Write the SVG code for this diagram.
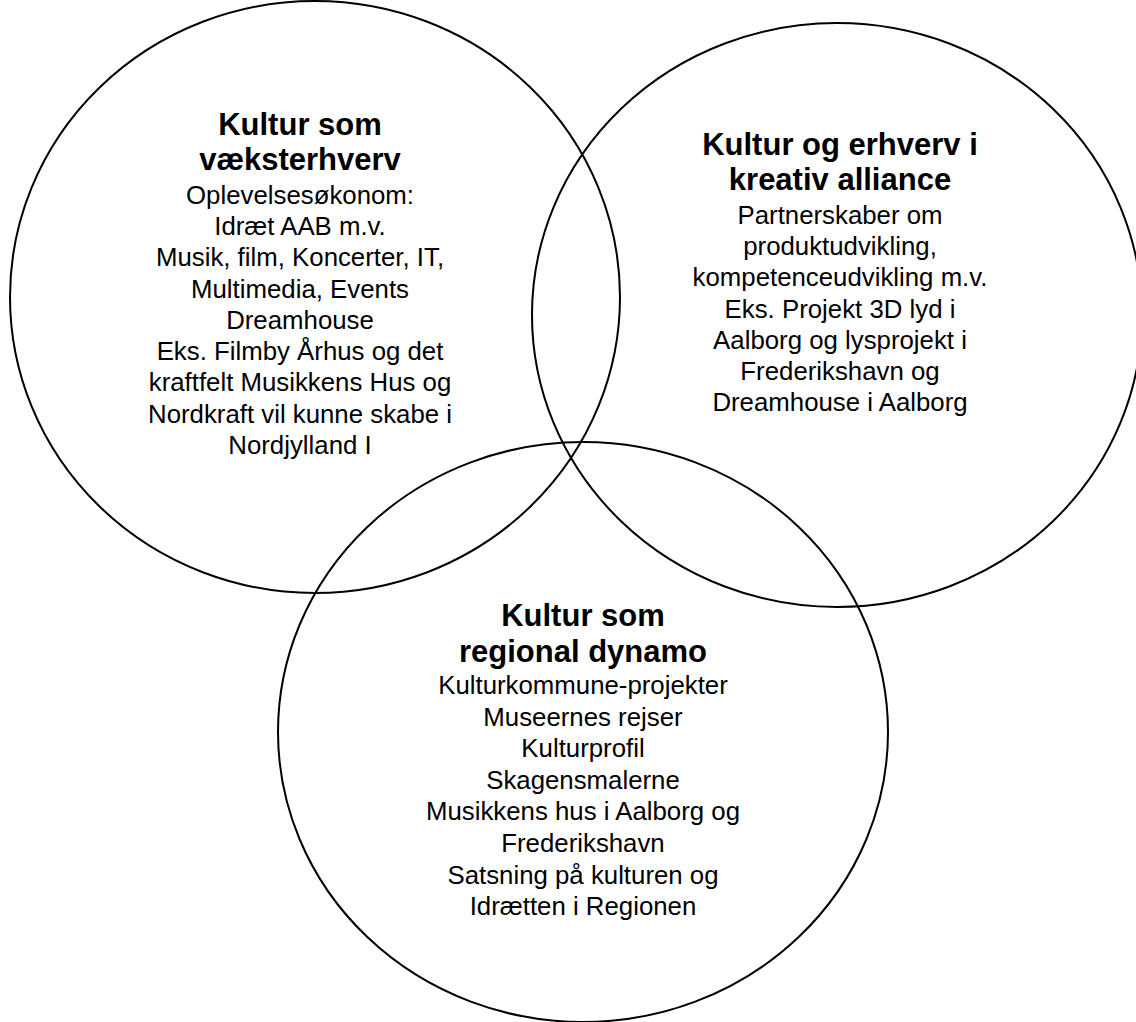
<svg xmlns="http://www.w3.org/2000/svg" width="1136" height="1022" viewBox="0 0 1136 1022">
<style>
.c{fill:none;stroke:#000;stroke-width:2}
.t{font-family:"Liberation Sans",Arial,sans-serif;font-weight:bold;font-size:31px;fill:#000;text-anchor:middle}
.b{font-family:"Liberation Sans",Arial,sans-serif;font-size:25.8px;fill:#000;text-anchor:middle}
</style>
<rect width="1136" height="1022" fill="#fff"/>
<g id="n1">
<ellipse class="c" cx="315" cy="297" rx="305" ry="296"/>
<text class="t" x="300" y="135">Kultur som</text>
<text class="t" x="300" y="170">væksterhverv</text>
<text class="b" x="300" y="204">Oplevelsesøkonom:</text>
<text class="b" x="300" y="235">Idræt AAB m.v.</text>
<text class="b" x="300" y="266">Musik, film, Koncerter, IT,</text>
<text class="b" x="300" y="298">Multimedia, Events</text>
<text class="b" x="300" y="329">Dreamhouse</text>
<text class="b" x="300" y="360">Eks. Filmby Århus og det</text>
<text class="b" x="300" y="391">kraftfelt Musikkens Hus og</text>
<text class="b" x="300" y="423">Nordkraft vil kunne skabe i</text>
<text class="b" x="300" y="454">Nordjylland I</text>
</g>
<g id="n2">
<ellipse class="c" cx="837" cy="315" rx="305" ry="292"/>
<text class="t" x="840" y="155">Kultur og erhverv i</text>
<text class="t" x="840" y="190">kreativ alliance</text>
<text class="b" x="840" y="224">Partnerskaber om</text>
<text class="b" x="840" y="255">produktudvikling,</text>
<text class="b" x="840" y="286">kompetenceudvikling m.v.</text>
<text class="b" x="840" y="318">Eks. Projekt 3D lyd i</text>
<text class="b" x="840" y="349">Aalborg og lysprojekt i</text>
<text class="b" x="840" y="380">Frederikshavn og</text>
<text class="b" x="840" y="411">Dreamhouse i Aalborg</text>
</g>
<g id="n3">
<ellipse class="c" cx="583" cy="732" rx="305" ry="290"/>
<text class="t" x="583" y="626">Kultur som</text>
<text class="t" x="583" y="662">regional dynamo</text>
<text class="b" x="583" y="694">Kulturkommune-projekter</text>
<text class="b" x="583" y="726">Museernes rejser</text>
<text class="b" x="583" y="757">Kulturprofil</text>
<text class="b" x="583" y="789">Skagensmalerne</text>
<text class="b" x="583" y="820">Musikkens hus i Aalborg og</text>
<text class="b" x="583" y="852">Frederikshavn</text>
<text class="b" x="583" y="884">Satsning på kulturen og</text>
<text class="b" x="583" y="915">Idrætten i Regionen</text>
</g>
<g id="connectors"></g>
</svg>
